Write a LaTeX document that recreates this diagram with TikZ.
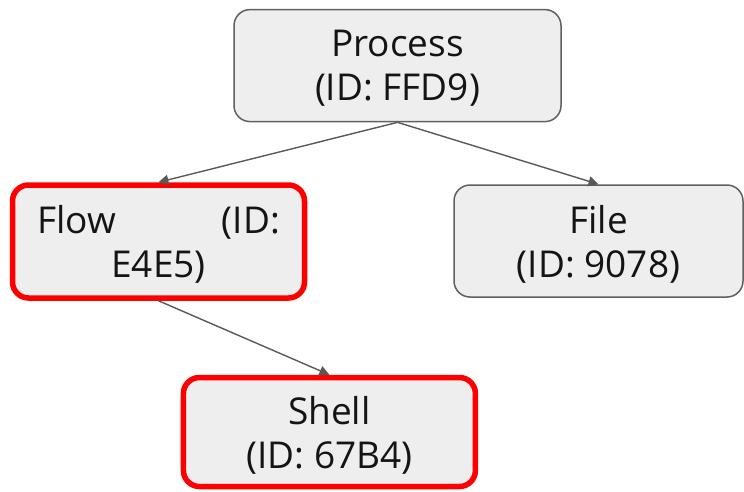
\documentclass[tikz,border=0pt]{standalone}
\usepackage{fontspec}
\setmainfont{Open Sans}
\usetikzlibrary{arrows.meta,positioning}
\definecolor{pgFill} {RGB}{238,238,238}
\definecolor{pgEdge} {RGB}{ 96, 96, 96}
\definecolor{pgArrow}{RGB}{ 89, 89, 89}
\definecolor{pgAlert}{RGB}{255,  0,  0}
\definecolor{pgInk}  {RGB}{ 20, 20, 20}

\begin{document}
\begin{tikzpicture}[
  x=1pt,y=-1pt,
  font=\fontsize{37}{44}\selectfont,
  box/.style={rectangle,rounded corners=16pt,draw=pgEdge,line width=1.5pt,
              fill=pgFill,text=pgInk,minimum width=292pt,minimum height=112pt,
              align=center,inner sep=0pt,text depth=0pt},
  hit/.style={box,draw=pgAlert,line width=5.5pt},
  link/.style={-{Triangle[length=10pt,width=10pt]},draw=pgArrow,line width=1.4pt}
]
\useasboundingbox (0,0) rectangle (744,491);

% --- top level
\node[box,minimum width=327pt] (proc) at (397.5,65.6) {Process\\(ID: FFD9)};

% --- children
\node[hit,minimum height=113pt] (flow) at (158.5,241.5)
     {\parbox[b]{243pt}{\tolerance=10000\leftskip=0pt plus 1fil\rightskip=0pt plus -1fil
      \parfillskip=0pt plus 2fil Flow (ID: E4E5)}};
\node[box,minimum width=289pt] (file) at (598.5,241) {File\\(ID: 9078)};
\node[hit,minimum height=109pt] (shell) at (329.4,432) {Shell\\(ID: 67B4)};

% --- links
\draw[link] (proc.south) -- (flow.north);
\draw[link] (proc.south) -- (file.north);
\draw[link] (flow.south) -- (shell.north);
\end{tikzpicture}
\end{document}
